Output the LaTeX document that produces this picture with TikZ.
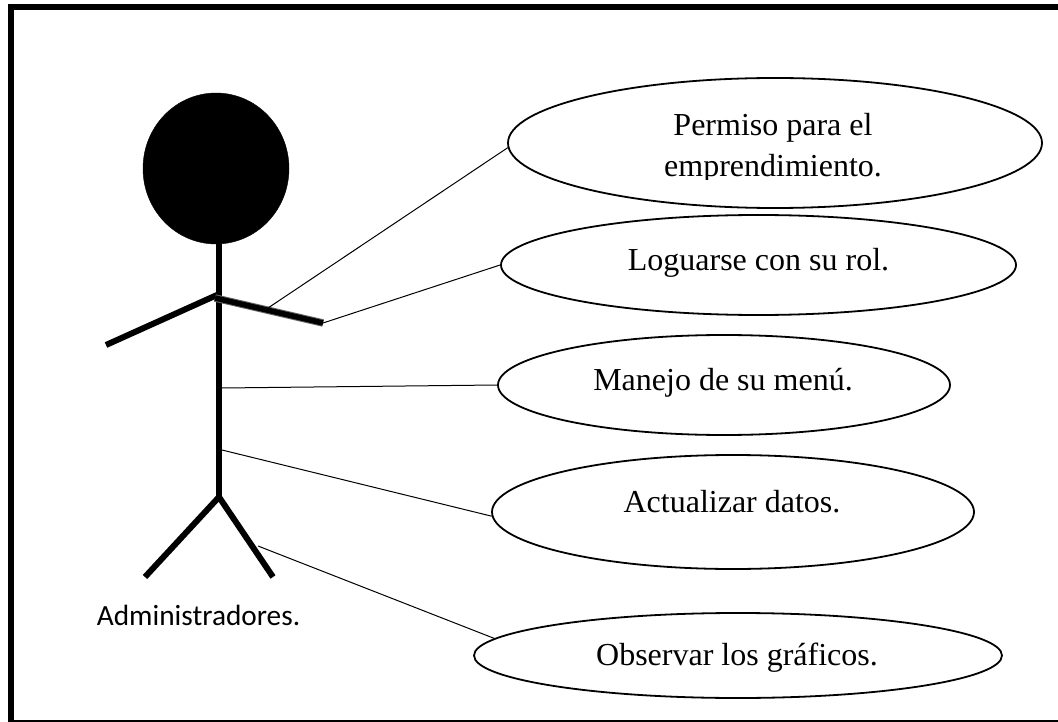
\documentclass[tikz,border=0pt]{standalone}
\usepackage{fontspec}
\setmainfont{Liberation Serif}
\newfontfamily\labelfont{Carlito}
\usetikzlibrary{shapes.geometric}
\tikzstyle{usecase} = [draw, ellipse, line width=1.8pt, inner sep=0pt]
\tikzstyle{casetext} = [font=\fontsize{32}{41}\selectfont, align=center, inner sep=0pt, anchor=base]
\tikzstyle{limb} = [line width=6pt]
\tikzstyle{assoc} = [line width=1pt]

\begin{document}
\begin{tikzpicture}[x=1pt, y=-1pt]
	\useasboundingbox (0, 0) rectangle (1058, 722);
	\draw[line width=6pt] (11, 722) -- (11, 7) -- (1058, 7);
	\draw[line width=1.5pt] (8, 721) -- (1058, 721);
	% figure
	\node[draw, fill=black, ellipse, minimum width=146pt, minimum height=151pt, inner sep=0pt] (head) at (216, 168.5) {};
	\coordinate (neck) at (219, 244);
	\coordinate (hip) at (219, 497);
	\coordinate (shoulder) at (217, 295);
	\coordinate (handl) at (106, 345);
	\coordinate (handr) at (323, 323);
	\coordinate (footl) at (145, 577);
	\coordinate (footr) at (273, 577);
	\coordinate (body1) at (222, 388);
	\coordinate (body2) at (222, 450);
	\coordinate (arm) at (268, 308);
	\coordinate (leg) at (258, 546);
	\draw[limb] (neck) -- (hip);
	\draw[limb] (shoulder) -- (handl);
	\draw[limb, black!60, line width=7.5pt] (215, 298) -- (handr);
	\draw[limb, line width=5.5pt] (215, 298) -- (handr);
	\draw[limb] (footl) -- (hip) -- (footr);
	\node[font=\labelfont\fontsize{29.3}{34}\selectfont, inner sep=0pt, anchor=base] (actor) at (198.5, 625) {Administradores.};
	% use cases
	\node[usecase, minimum width=534pt, minimum height=130pt] (permiso) at (775, 143) {};
	\node[usecase, minimum width=515pt, minimum height=100pt] (loguarse) at (758.5, 265) {};
	\node[usecase, minimum width=452pt, minimum height=100pt] (manejo) at (724, 385) {};
	\node[usecase, minimum width=482pt, minimum height=114pt] (actualizar) at (733, 512) {};
	\node[usecase, minimum width=528pt, minimum height=85pt] (observar) at (738, 655.5) {};
	\begin{scope}
		\clip (600, 90) rectangle (950, 179.5);
		\node[casetext] (permisotext) at (773, 177) {Permiso para el\\emprendimiento.};
	\end{scope}
	\node[casetext] (loguarsetext) at (758.5, 270) {Loguarse con su rol.};
	\node[casetext] (manejotext) at (723, 390) {Manejo de su menú.};
	\node[casetext] (actualizartext) at (732, 512) {Actualizar datos.};
	\node[casetext] (observartext) at (737, 665) {Observar los gráficos.};
	% connectors
	\draw[assoc] (arm) -- (permiso.181);
	\draw[assoc] (handr) -- (loguarse.west);
	\draw[assoc] (body1) -- (manejo.west);
	\draw[assoc] (body2) -- (actualizar.181.2);
	\draw[assoc] (leg) -- (observar.176.65);
\end{tikzpicture}
\end{document}
